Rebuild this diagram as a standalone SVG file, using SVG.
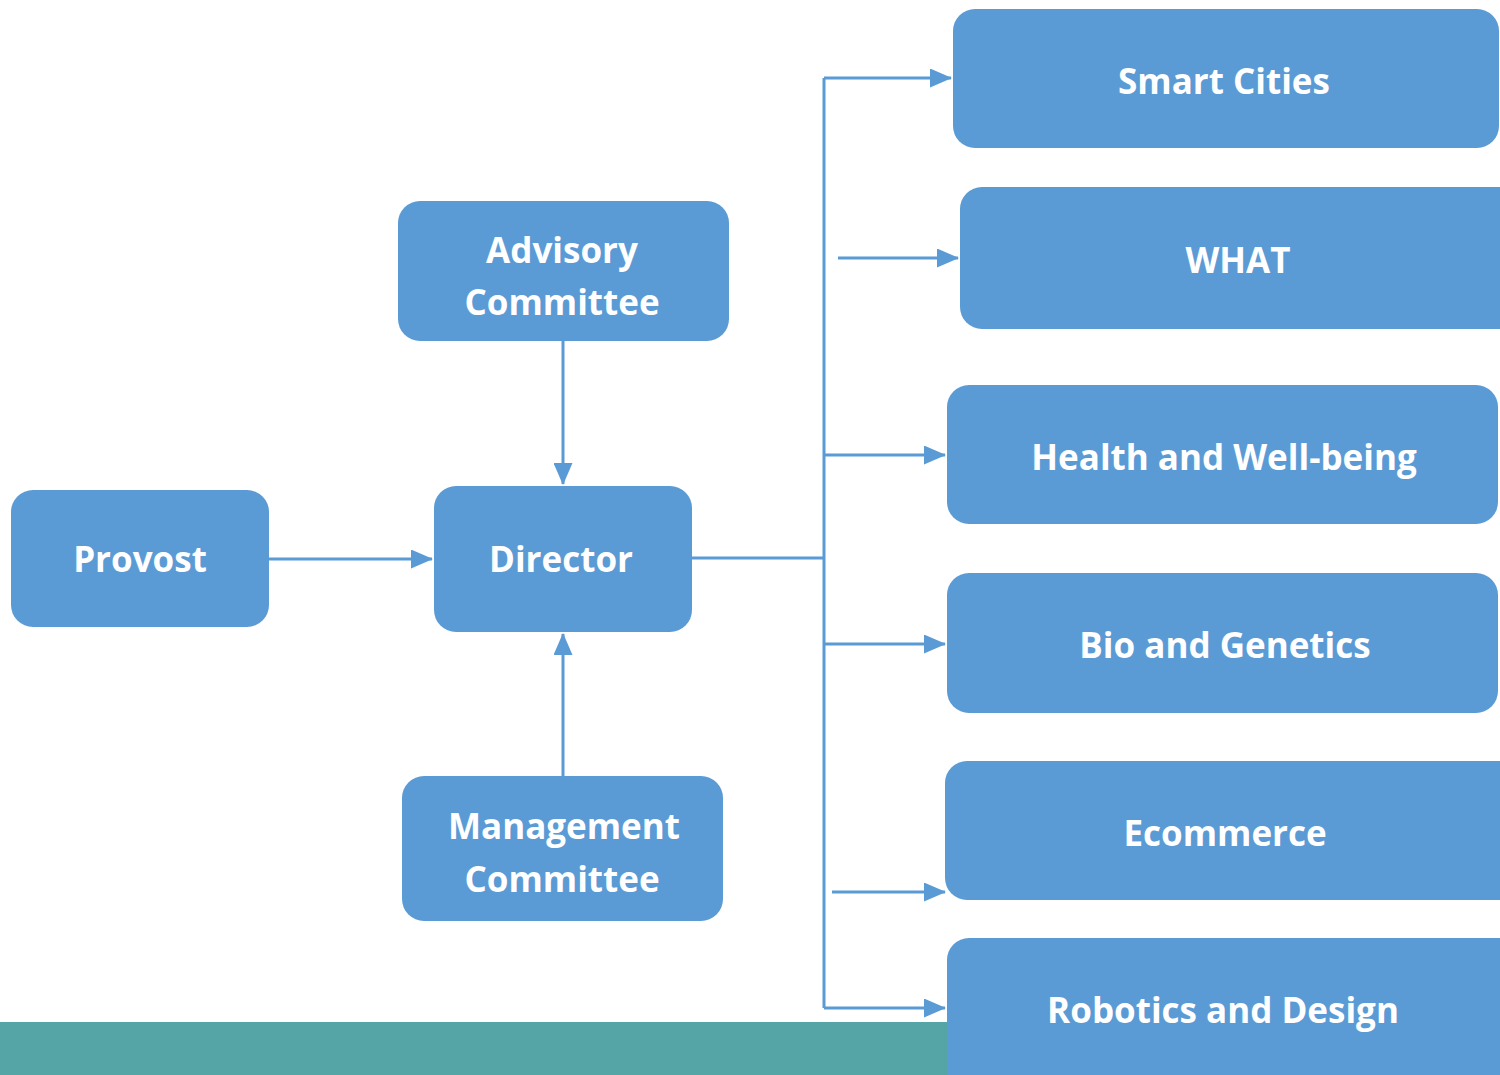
<svg xmlns="http://www.w3.org/2000/svg" width="1500" height="1075" viewBox="0 0 1500 1075">
<style>
.box{fill:#5B9BD5;}
.t{fill:#fff;font-family:"Open Sans","Liberation Sans",sans-serif;font-weight:bold;font-size:35px;text-anchor:middle;dominant-baseline:central;}
.c{stroke:#5B9BD5;stroke-width:3;fill:none;}
</style>
<defs>
<marker id="ah" markerWidth="22" markerHeight="19" refX="21" refY="9.5" orient="auto" markerUnits="userSpaceOnUse">
<path d="M0,0 L22,9.5 L0,19 Z" fill="#5B9BD5"/>
</marker>
</defs>
<rect x="0" y="0" width="1500" height="1075" fill="#fff"/>
<rect id="band" x="0" y="1022" width="1000" height="53" fill="#56A5A6"/>
<g id="connectors">
<path class="c" d="M692,558 H824"/>
<path class="c" d="M824,78 V1008"/>
<path class="c" d="M824,78 H951" marker-end="url(#ah)"/>
<path class="c" d="M838,258 H958" marker-end="url(#ah)"/>
<path class="c" d="M824,455 H945" marker-end="url(#ah)"/>
<path class="c" d="M824,644 H945" marker-end="url(#ah)"/>
<path class="c" d="M832,892 H945" marker-end="url(#ah)"/>
<path class="c" d="M824,1008 H945" marker-end="url(#ah)"/>
<path class="c" d="M269,559 H432" marker-end="url(#ah)"/>
<path class="c" d="M563,341 V484" marker-end="url(#ah)"/>
<path class="c" d="M563,776 V634" marker-end="url(#ah)"/>
</g>
<g id="smart-cities"><rect class="box" x="953" y="9" width="546" height="139" rx="22"/><text class="t" x="1224" y="80">Smart Cities</text></g>
<g id="what"><rect class="box" x="960" y="187" width="560" height="142" rx="22"/><text class="t" x="1238" y="259">WHAT</text></g>
<g id="health"><rect class="box" x="947" y="385" width="551" height="139" rx="22"/><text class="t" x="1224" y="456">Health and Well-being</text></g>
<g id="bio"><rect class="box" x="947" y="573" width="551" height="140" rx="22"/><text class="t" x="1225" y="644">Bio and Genetics</text></g>
<g id="ecommerce"><rect class="box" x="945" y="761" width="575" height="139" rx="22"/><text class="t" x="1225" y="832">Ecommerce</text></g>
<g id="robotics"><rect class="box" x="947" y="938" width="573" height="160" rx="22"/><text class="t" x="1223" y="1009">Robotics and Design</text></g>
<g id="advisory"><rect class="box" x="398" y="201" width="331" height="140" rx="22"/><text class="t" x="562" y="249">Advisory</text><text class="t" x="562" y="301">Committee</text></g>
<g id="provost"><rect class="box" x="11" y="490" width="258" height="137" rx="22"/><text class="t" x="140" y="558">Provost</text></g>
<g id="director"><rect class="box" x="434" y="486" width="258" height="146" rx="22"/><text class="t" x="561" y="558">Director</text></g>
<g id="management"><rect class="box" x="402" y="776" width="321" height="145" rx="22"/><text class="t" x="564" y="825">Management</text><text class="t" x="562" y="878">Committee</text></g>
</svg>
